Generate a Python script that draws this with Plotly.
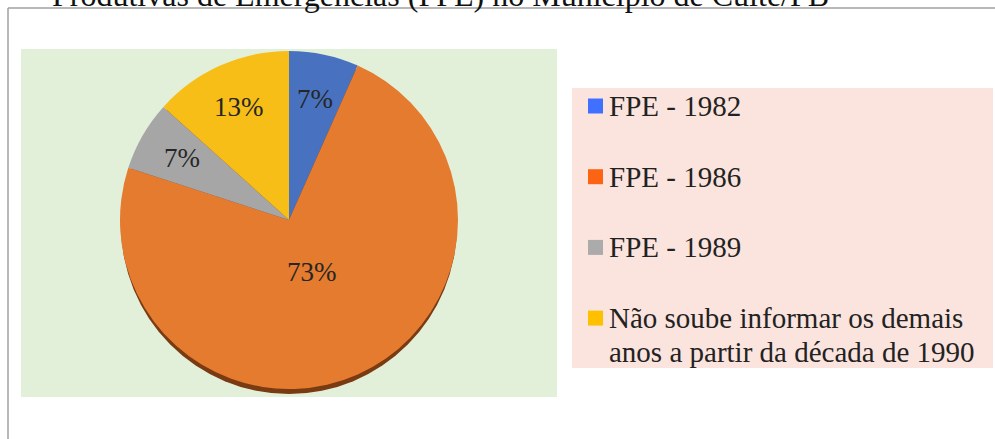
import math
import plotly.graph_objects as go

# ---- data ----
labels = ["FPE - 1982", "FPE - 1986", "FPE - 1989",
          "Não soube informar os demais anos a partir da década de 1990"]
counts = [1, 11, 1, 2]
pie_colors = ["#4872BF", "#E47B2F", "#A6A6A6", "#F8BE18"]
legend_colors = ["#4070FF", "#FC6414", "#ABABAB", "#FFC000"]
title_text = "Produtivas de Emergências (FPE) no Município de Cuité/PB"

W, H = 995, 439
FONT = "Liberation Serif"

def px(x):
    return x / W

def py(y):
    return 1 - y / H

# pie geometry (pixels)
cx, cy, r = 289, 220, 169

fig = go.Figure()
fig.add_trace(go.Pie(
    labels=labels, values=counts, sort=False, direction="clockwise", rotation=0,
    marker=dict(colors=pie_colors, line=dict(width=0)),
    textinfo="none",
    domain=dict(x=[px(cx - r), px(cx + r)], y=[py(cy + r), py(cy - r)]),
    showlegend=False, hoverinfo="label+percent",
))

shapes = [
    # frame
    dict(type="line", xref="paper", yref="paper", x0=px(8), x1=1, y0=py(8), y1=py(8),
         line=dict(color="#A0A0A0", width=1.5)),
    dict(type="line", xref="paper", yref="paper", x0=px(8), x1=px(8), y0=py(8), y1=0,
         line=dict(color="#A0A0A0", width=1.5)),
    # plot area (green)
    dict(type="rect", xref="paper", yref="paper", x0=px(21), x1=px(557), y0=py(397), y1=py(49),
         fillcolor="#E2F0DA", line=dict(width=0), layer="below"),
    # 3D rim shadow
    dict(type="circle", xref="paper", yref="paper", x0=px(cx - r + 1), x1=px(cx + r - 1),
         y0=py(cy + r + 5), y1=py(cy - r + 5),
         fillcolor="#7A3A12", line=dict(width=0), layer="below"),
    # legend box (pink)
    dict(type="rect", xref="paper", yref="paper", x0=px(572), x1=px(993), y0=py(368), y1=py(88),
         fillcolor="#FBE4DD", line=dict(width=0), layer="below"),
]

annotations = [
    dict(text=title_text, xref="paper", yref="paper", x=px(50), y=py(-5),
         xanchor="left", yanchor="middle", showarrow=False,
         font=dict(family=FONT, size=32, color="#111111")),
]

# percentage labels placed at each slice's mid-angle (derived from the data)
total = sum(counts)
start = 0.0
for v in counts:
    frac = v / total
    mid = (start + frac / 2) * 2 * math.pi
    f = 0.73 if frac < 0.5 else 0.34
    lx = cx + f * r * math.sin(mid)
    ly = cy - f * r * math.cos(mid)
    annotations.append(dict(text=f"{round(frac * 100)}%", xref="paper", yref="paper",
                            x=px(lx), y=py(ly), xanchor="center", yanchor="middle",
                            showarrow=False,
                            font=dict(family=FONT, size=27, color="#262626")))
    start += frac

def wrap(s, width=31):
    words, lines, cur = s.split(" "), [], ""
    for w in words:
        if cur and len(cur) + 1 + len(w) > width:
            lines.append(cur)
            cur = w
        else:
            cur = (cur + " " + w) if cur else w
    lines.append(cur)
    return lines

y0_leg, step, line_h = 106, 70.7, 34
for i, (lab, col) in enumerate(zip(labels, legend_colors)):
    yc = y0_leg + i * step
    shapes.append(dict(type="rect", xref="paper", yref="paper",
                       x0=px(588), x1=px(603), y0=py(yc + 7.5), y1=py(yc - 7.5),
                       fillcolor=col, line=dict(width=0)))
    for j, ln in enumerate(wrap(lab)):
        annotations.append(dict(text=ln, xref="paper", yref="paper",
                                x=px(607), y=py(yc + j * line_h),
                                xanchor="left", yanchor="middle", showarrow=False,
                                font=dict(family=FONT, size=29, color="#222222")))

fig.update_layout(
    width=W, height=H, margin=dict(l=0, r=0, t=0, b=0),
    paper_bgcolor="white", plot_bgcolor="white",
    shapes=shapes, annotations=annotations,
    showlegend=False,
)

fig.write_html("out.html", config={"displayModeBar": False},
               post_script="document.body.style.margin='0px';document.body.style.padding='0px';")
